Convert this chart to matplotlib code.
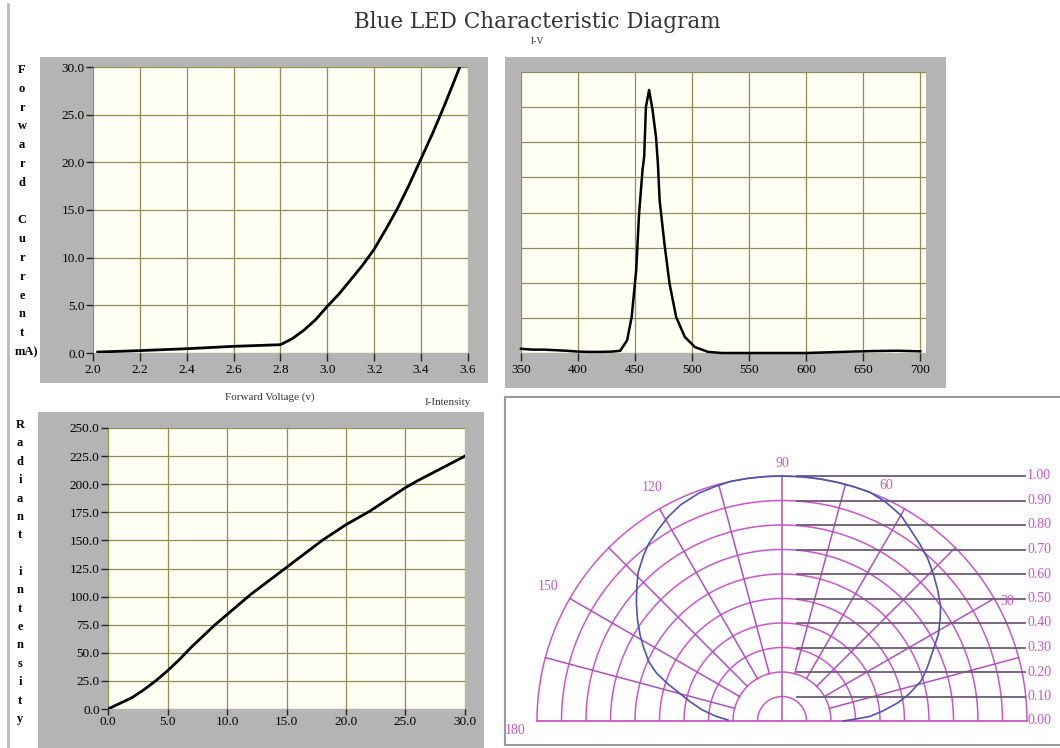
import numpy as np
import matplotlib
matplotlib.use("Agg")
import matplotlib.pyplot as plt
from matplotlib.patches import Rectangle
from matplotlib.lines import Line2D

plt.rcParams['font.family'] = ['Liberation Serif', 'DejaVu Serif']

W, H = 1060, 748

# I-V curve (forward voltage V, forward current mA)
iv_voltage = [2.02, 2.2, 2.4, 2.6, 2.8, 2.85, 2.9, 2.95, 3.0, 3.05, 3.1, 3.15,
              3.2, 3.25, 3.3, 3.35, 3.4, 3.45, 3.5, 3.565]
iv_current = [0.1, 0.25, 0.45, 0.7, 0.87, 1.5, 2.4, 3.5, 4.9, 6.2, 7.7, 9.2,
              10.9, 13.0, 15.2, 17.7, 20.4, 23.1, 26.0, 30.0]
iv_xticks = [2.0, 2.2, 2.4, 2.6, 2.8, 3.0, 3.2, 3.4, 3.6]
iv_yticks = [0, 5, 10, 15, 20, 25, 30]

# spectrum (wavelength nm, relative intensity)
wavelength = [350, 360, 370, 380, 390, 400, 410, 420, 430, 437, 443, 447, 451,
              453.5, 456.5, 458, 459.5, 462.3, 465.3, 468.3, 470, 471.5, 475.7,
              480.2, 486, 493.6, 502.5, 514, 526, 550, 600, 640, 660, 680, 700]
spectrum = [0.015, 0.012, 0.012, 0.01, 0.008, 0.005, 0.004, 0.004, 0.005, 0.008,
            0.045, 0.128, 0.295, 0.496, 0.65, 0.70, 0.876, 0.936, 0.865, 0.77,
            0.675, 0.544, 0.39, 0.247, 0.128, 0.057, 0.021, 0.004, 0.0, 0.0,
            0.0, 0.005, 0.007, 0.008, 0.006]
sp_xticks = [350, 400, 450, 500, 550, 600, 650, 700]

# radiant intensity vs forward current
li_current = [0, 1, 2, 3, 4, 5, 6, 7, 8, 9, 10, 12, 14, 15, 16, 18, 20, 22,
              24, 25, 26, 28, 30]
li_intensity = [0, 5, 10, 17, 25, 34, 44, 55, 65, 75, 84, 102, 118, 126, 134,
                150, 164, 176, 190, 197, 203, 214, 225]
li_xticks = [0, 5, 10, 15, 20, 25, 30]
li_yticks = [0, 25, 50, 75, 100, 125, 150, 175, 200, 225, 250]

# radiation pattern (angle deg, relative intensity)
pattern_angle = [0, 1.5, 3, 6, 9, 12, 16, 20, 25, 29, 33, 36, 40, 44, 48, 52,
                 56, 60, 65, 69, 73, 77, 81, 85, 90, 94, 98, 102, 106, 110, 115,
                 119, 123, 127, 130, 134, 137, 141, 145, 149, 152, 156, 159, 162,
                 165, 168, 172, 176, 179]
pattern_rel = [0.25, 0.30, 0.36, 0.42, 0.48, 0.53, 0.59, 0.63, 0.68, 0.73, 0.77,
               0.80, 0.83, 0.86, 0.89, 0.915, 0.94, 0.97, 0.99, 1.0, 1.0, 1.0,
               1.0, 1.0, 1.0, 1.0, 1.0, 1.0, 0.995, 0.99, 0.975, 0.955, 0.93,
               0.905, 0.88, 0.845, 0.81, 0.765, 0.72, 0.675, 0.64, 0.595, 0.55,
               0.49, 0.43, 0.385, 0.33, 0.27, 0.22]
ring_levels = [0.1, 0.2, 0.3, 0.4, 0.5, 0.6, 0.7, 0.8, 0.9, 1.0]
spoke_angles = [15, 30, 45, 60, 75, 105, 120, 135, 150, 165]
angle_labels = ['90', '60', '120', '150', '30', '180']

GRAY = '#b4b4b4'
CREAM = '#fffff4'
GRID = '#8f8f55'
MAG = '#cc55cc'


def box(x0, y0, x1, y1):
    return [x0 / W, 1 - y1 / H, (x1 - x0) / W, (y1 - y0) / H]


def panel(fig, x0, y0, x1, y1):
    fig.add_artist(Rectangle((x0 / W, 1 - y1 / H), (x1 - x0) / W, (y1 - y0) / H,
                             transform=fig.transFigure, facecolor=GRAY,
                             edgecolor='none', zorder=-5))


def style(ax):
    ax.set_facecolor(CREAM)
    for s in ax.spines.values():
        s.set_visible(False)
    ax.grid(True, color=GRID, lw=0.9)
    ax.set_axisbelow(True)
    ax.tick_params(direction='out', length=5, width=1, color='#222222',
                   labelsize=9.5, pad=1)


fig = plt.figure(figsize=(W / 100, H / 100), dpi=100)
fig.add_artist(Line2D([8 / W, 8 / W], [0, 1 - 4 / H], color='#bbbbbb', lw=2))

fig.text(537 / W, 1 - 22 / H, 'Blue LED Characteristic Diagram', ha='center',
         va='center', fontsize=15.5, color='#333333', family='DejaVu Serif')
fig.text(537 / W, 1 - 42 / H, 'I-V', ha='center', va='center', fontsize=7,
         color='#333333')

# ---- I-V ----
panel(fig, 40, 57, 488, 383)
ax1 = fig.add_axes(box(93, 67, 468, 353))
style(ax1)
ax1.plot(iv_voltage, iv_current, color='black', lw=2)
ax1.set_xlim(2.0, 3.6)
ax1.set_ylim(0, 30)
ax1.set_xticks(iv_xticks)
ax1.set_xticklabels([f'{v:.1f}' for v in iv_xticks])
ax1.set_yticks(iv_yticks)
ax1.set_yticklabels([f'{v:.1f}' for v in iv_yticks])
ax1.tick_params(axis='x', length=6, pad=2)
fig.text(270 / W, 1 - 397 / H, 'Forward Voltage (v)', ha='center', va='center',
         fontsize=8, color='#333333')
fig.text(448 / W, 1 - 402 / H, 'I-Intensity', ha='center', va='center',
         fontsize=8, color='#333333')
rows = list('Forward') + [''] + list('Current') + ['mA)']
for y, ch in zip(np.linspace(70, 352, len(rows)), rows):
    fig.text((26 if ch == 'mA)' else 22) / W, 1 - y / H, ch, ha='center',
             va='center', fontsize=9, fontweight='bold')

# ---- spectrum ----
panel(fig, 505, 57, 946, 388)
ax2 = fig.add_axes(box(521, 72, 926, 353))
style(ax2)
ax2.plot(wavelength, spectrum, color='black', lw=1.8, clip_on=False)
ax2.set_xlim(350, 705)
ax2.set_ylim(0, 1)
ax2.set_xticks(sp_xticks)
ax2.set_xticklabels([str(v) for v in sp_xticks])
ax2.set_yticks(np.arange(0, 1.01, 0.125))
ax2.set_yticklabels([])
ax2.tick_params(axis='y', length=0)
ax2.tick_params(axis='x', length=6, pad=2)

# ---- radiant intensity ----
panel(fig, 38, 412, 484, 748)
ax3 = fig.add_axes(box(108, 428, 465, 709))
style(ax3)
ax3.plot(li_current, li_intensity, color='black', lw=2)
ax3.set_xlim(0, 30)
ax3.set_ylim(0, 250)
ax3.set_xticks(li_xticks)
ax3.set_xticklabels([f'{v:.1f}' for v in li_xticks])
ax3.set_yticks(li_yticks)
ax3.set_yticklabels([f'{v:.1f}' for v in li_yticks])
ax3.tick_params(axis='x', length=4, pad=1)
rows = list('Radiant') + [''] + list('intensity')
for y, ch in zip(np.linspace(425, 719, len(rows)), rows):
    fig.text(20 / W, 1 - y / H, ch, ha='center', va='center', fontsize=9,
             fontweight='bold')

# ---- radiation pattern ----
cx, cy, R = 782, 721, 245
x0, y0, x1, y1 = 505, 397, 1066, 745
ax4 = fig.add_axes(box(x0, y0, x1, y1))
ax4.set_xlim((x0 - cx) / R, (x1 - cx) / R)
ax4.set_ylim((cy - y1) / R, (cy - y0) / R)
ax4.set_xticks([])
ax4.set_yticks([])
for s in ax4.spines.values():
    s.set_color('#999999')
    s.set_linewidth(1.5)

t = np.linspace(0, np.pi, 200)
for r in ring_levels:
    ax4.plot(r * np.cos(t), r * np.sin(t), color=MAG, lw=1.1)
for a in spoke_angles:
    ar = np.radians(a)
    ax4.plot([0.2 * np.cos(ar), np.cos(ar)], [0.2 * np.sin(ar), np.sin(ar)],
             color='#b050c0', lw=1.1)
ax4.plot([0, 0], [0, 1], color='#b050c0', lw=1.1)
ax4.plot([-1, 1], [0, 0], color=MAG, lw=1.3)
for r in ring_levels:
    ax4.plot([0.06, 0.99], [r, r], color='#6e5a78', lw=1.3)
for r in [0.0] + ring_levels:
    ax4.text(1.0, r, f'{r:.2f}', color=MAG, fontsize=10, ha='left', va='center')

label_pos = [(90, 1.05), (66, 1.05), (119, 1.09), (150, 1.1), (28, 1.04), (182, 1.09)]
for txt, (a, rr) in zip(angle_labels, label_pos):
    ar = np.radians(a)
    ax4.text(rr * np.cos(ar), rr * np.sin(ar), txt, color=MAG, fontsize=10,
             ha='center', va='center')

pa = np.radians(pattern_angle)
pr = np.array(pattern_rel)
ax4.plot(pr * np.cos(pa), pr * np.sin(pa), color='#4a55b0', lw=1.2)

fig.savefig('out.png', dpi=100)
